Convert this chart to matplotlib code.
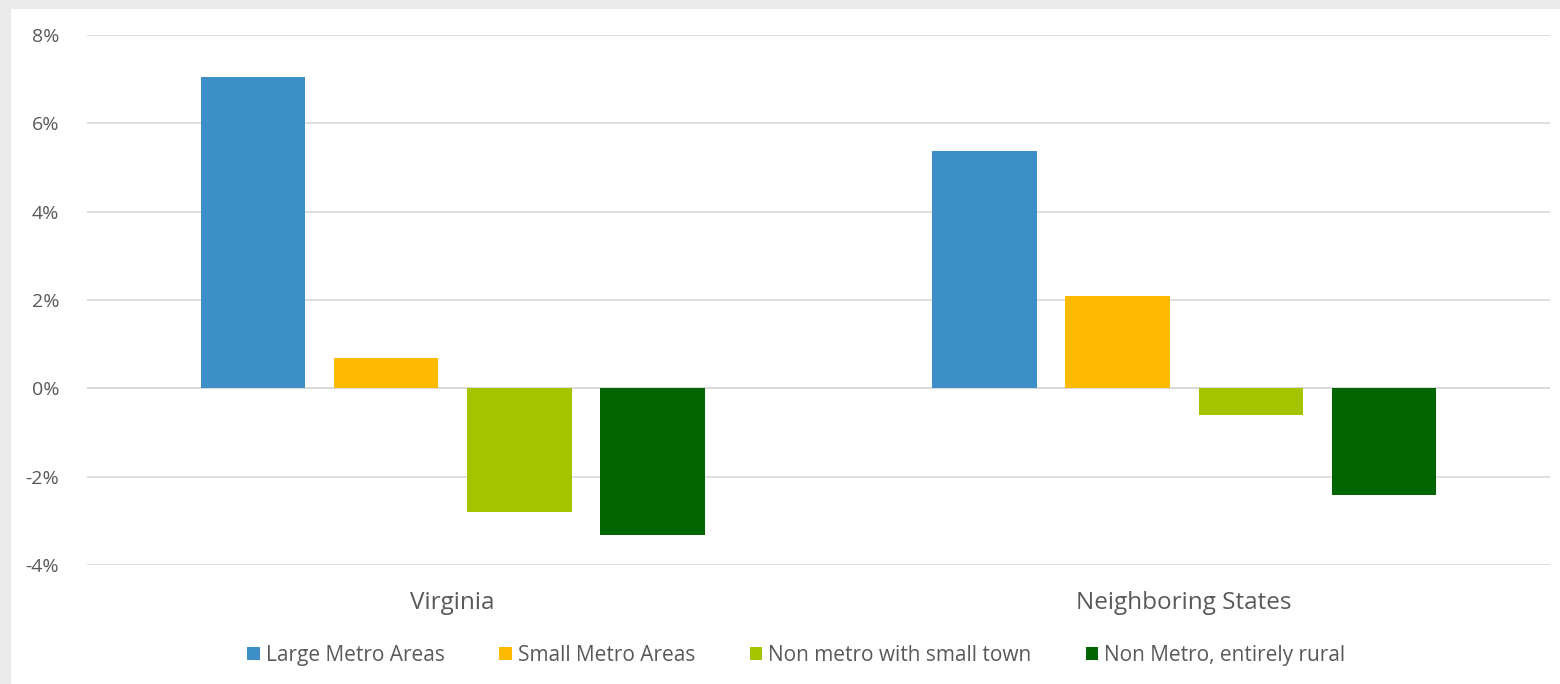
import matplotlib.pyplot as plt
import numpy as np
from matplotlib.patches import Rectangle

# values (percent)
regions = ["Virginia", "Neighboring States"]
series = ["Large Metro Areas", "Small Metro Areas", "Non metro with small town", "Non Metro, entirely rural"]
large_metro = [7.04, 5.37]
small_metro = [0.68, 2.08]
non_metro_town = [-2.81, -0.61]
non_metro_rural = [-3.31, -2.42]
colors = ["#3C8FC7", "#FFB900", "#A5C400", "#006400"]
yticks = [-4, -2, 0, 2, 4, 6, 8]

plt.rcParams['font.family'] = ['Open Sans', 'DejaVu Sans']
txt = "#595959"

fig = plt.figure(figsize=(15.6, 6.84), dpi=100)
fig.patch.set_facecolor("#EBEBEB")
fig.add_artist(Rectangle((11 / 1560, 0), 1, 1 - 9 / 684, transform=fig.transFigure,
                         facecolor="white", edgecolor="none", zorder=0))

ax = fig.add_axes([87 / 1560, 1 - 565 / 684, (1550 - 87) / 1560, (565 - 35) / 684])
ax.set_facecolor("none")

x = np.arange(len(regions))
width = 0.143
step = 0.182
all_vals = [large_metro, small_metro, non_metro_town, non_metro_rural]
for i, (name, vals) in enumerate(zip(series, all_vals)):
    ax.bar(x + (i - 1.5) * step, vals, width, color=colors[i], label=name, zorder=3)

ax.set_xlim(-0.5, 1.5)
ax.set_ylim(-4, 8)
ax.set_yticks(yticks)
ax.set_yticklabels([f"{t}%" for t in yticks], fontsize=14, color=txt)
ax.set_xticks(x)
ax.set_xticklabels(regions, fontsize=17.5, color=txt)
ax.tick_params(axis="both", length=0)
ax.tick_params(axis="y", pad=20)
ax.tick_params(axis="x", pad=19)
ax.grid(axis="y", color="#D9D9D9", linewidth=1.2, zorder=0)
ax.axhline(0, color="#D9D9D9", linewidth=1.2, zorder=1)
for s in ax.spines.values():
    s.set_visible(False)

leg = ax.legend(loc="upper center", bbox_to_anchor=(0.485, -0.115), ncol=4, frameon=False,
                fontsize=15, handlelength=0.6, handleheight=0.6, handletextpad=0.3,
                columnspacing=2.6, labelcolor=txt)

fig.savefig("out.png", dpi=100, facecolor=fig.get_facecolor())
